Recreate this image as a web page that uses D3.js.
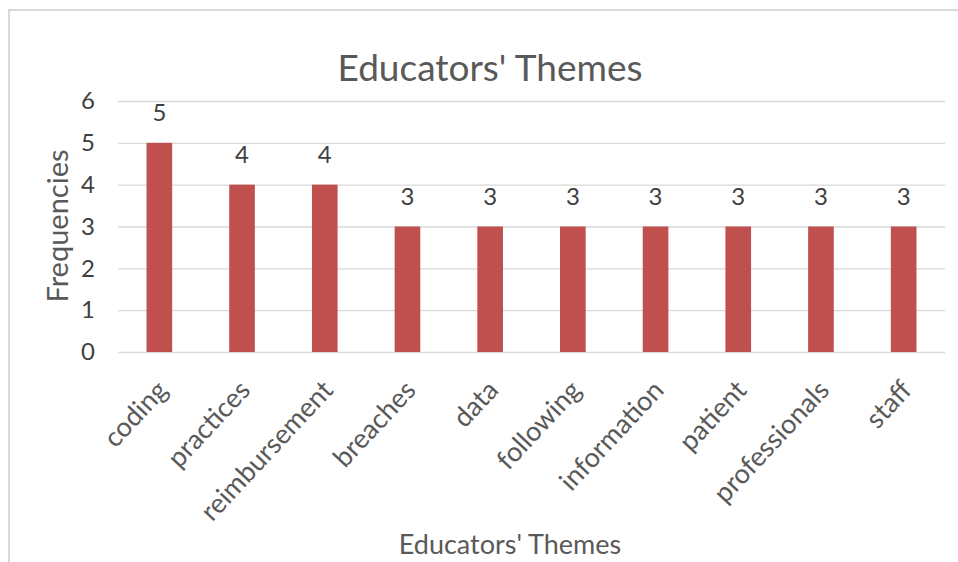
<!DOCTYPE html>
<html>
<head>
<meta charset="utf-8">
<script src="https://cdn.jsdelivr.net/npm/d3@7"></script>
<style>
  body { margin: 0; background: #fff; }
  text { font-family: Lato, "Open Sans", sans-serif; fill: #595959; }
</style>
</head>
<body>
<div id="chart"></div>
<script>
// chart data
const themes = ['coding', 'practices', 'reimbursement', 'breaches', 'data',
    'following', 'information', 'patient', 'professionals', 'staff'];
const frequencies = [5, 4, 4, 3, 3, 3, 3, 3, 3, 3];
const yTicks = [0, 1, 2, 3, 4, 5, 6];

const width = 958, height = 562;
const margin = {t:101, r:13, b:210, l:118};
const w = width - margin.l - margin.r;
const h = height - margin.t - margin.b;

const svg = d3.select('#chart')
    .append('svg')
    .attr('width', width)
    .attr('height', height);

// outer frame
svg.append('rect')
    .attr('x', 9).attr('y', 10)
    .attr('width', 960).attr('height', 600)
    .style('fill', 'none')
    .style('stroke', '#d9d9d9')
    .style('stroke-width', 2);

const plot = svg.append('g')
    .attr('transform', `translate(${margin.l},${margin.t})`);

// scales
const scaleX = d3.scaleBand()
    .domain(themes)
    .range([0, w])
    .paddingInner(0.69)
    .paddingOuter(0.345);
const scaleY = d3.scaleLinear()
    .domain([0, 6])
    .range([h, 0]);

// y axis with gridlines
const axisY = d3.axisLeft(scaleY)
    .tickValues(yTicks)
    .tickSize(-w)
    .tickFormat(d3.format('d'));
const axisYNode = plot.append('g').call(axisY);
axisYNode.select('.domain').remove();
axisYNode.selectAll('line').style('stroke', '#d9d9d9').style('stroke-width', 1.3);
axisYNode.selectAll('text')
    .attr('x', -30)
    .attr('text-anchor', 'middle')
    .style('font-size', '24px')
    .style('fill', '#404040');

// bars
plot.selectAll('.bar')
    .data(frequencies)
    .enter()
    .append('rect')
    .attr('class', 'bar')
    .attr('x', (d, i) => scaleX(themes[i]))
    .attr('y', d => scaleY(d))
    .attr('width', scaleX.bandwidth())
    .attr('height', d => h - scaleY(d))
    .style('fill', '#c0504d');

// value labels
plot.selectAll('.value')
    .data(frequencies)
    .enter()
    .append('text')
    .attr('class', 'value')
    .attr('x', (d, i) => scaleX(themes[i]) + scaleX.bandwidth() / 2)
    .attr('y', d => scaleY(d) - 22)
    .attr('text-anchor', 'middle')
    .style('font-size', '24px')
    .style('fill', '#404040')
    .text(d => d);

// x tick labels, rotated
const axisX = d3.axisBottom(scaleX).tickSize(0).tickPadding(0);
const axisXNode = plot.append('g')
    .attr('transform', `translate(0,${h})`)
    .call(axisX);
axisXNode.select('.domain').remove();
axisXNode.selectAll('text')
    .attr('y', 0)
    .attr('dy', '0.35em')
    .attr('text-anchor', 'end')
    .attr('transform', `translate(${scaleX.bandwidth() / 2 - 10},33) rotate(-47)`)
    .style('font-size', '27px')
    .style('fill', '#595959');

// titles
svg.append('text')
    .attr('x', 490).attr('y', 81)
    .attr('text-anchor', 'middle')
    .style('font-size', '37px')
    .text("Educators' Themes");

svg.append('text')
    .attr('x', 510).attr('y', 554)
    .attr('text-anchor', 'middle')
    .style('font-size', '27px')
    .text("Educators' Themes");

svg.append('text')
    .attr('transform', 'translate(68,226) rotate(-90)')
    .attr('text-anchor', 'middle')
    .style('font-size', '29px')
    .text('Frequencies');
</script>
</body>
</html>
